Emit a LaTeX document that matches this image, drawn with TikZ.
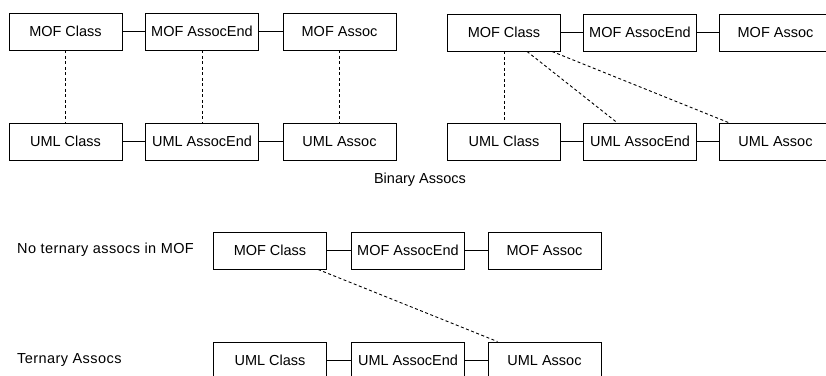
\documentclass[tikz,border=0pt]{standalone}
\usepackage{fontspec}
\setmainfont{Liberation Sans}
\usetikzlibrary{calc}
\begin{document}
\begin{tikzpicture}[x=1pt,y=-1pt,
  every node/.style={font=\fontsize{14.5}{17}\selectfont},
  elem/.style={draw, line width=0.9pt, minimum width=113pt, minimum height=37pt, inner sep=0pt},
  link/.style={line width=0.9pt},
  trace/.style={line width=0.9pt, dash pattern=on 3pt off 2.5pt},
  caption/.style={anchor=west, inner sep=0pt, font=\fontsize{14.5}{17}\selectfont\addfontfeature{LetterSpace=3}}]
\useasboundingbox (0,0) rectangle (826,375);
\clip (0,0) rectangle (826,375);

% binary associations, one-to-one mapping
\node[elem] (mc1) at (65.5,31.5) {MOF Class};
\node[elem] (me1) at (202,31.5) {MOF AssocEnd};
\node[elem] (ma1) at (339.5,31.5) {MOF Assoc};
\node[elem] (uc1) at (65.5,141.5) {UML Class};
\node[elem] (ue1) at (202,141.5) {UML AssocEnd};
\node[elem] (ua1) at (339.5,141.5) {UML Assoc};
\draw[link] (mc1) -- (me1);
\draw[link] (me1) -- (ma1);
\draw[link] (uc1) -- (ue1);
\draw[link] (ue1) -- (ua1);
\draw[trace] (mc1) -- (uc1);
\draw[trace] (me1) -- (ue1);
\draw[trace] (ma1) -- (ua1);

% binary associations, all mapped from the class
\node[elem] (mc2) at (504,32.5) {MOF Class};
\node[elem] (me2) at (640,32.5) {MOF AssocEnd};
\node[elem] (ma2) at (775.5,32.5) {MOF Assoc};
\node[elem] (uc2) at (504,141.5) {UML Class};
\node[elem] (ue2) at (640,141.5) {UML AssocEnd};
\node[elem] (ua2) at (775.5,141.5) {UML Assoc};
\draw[link] (mc2) -- (me2);
\draw[link] (me2) -- (ma2);
\draw[link] (uc2) -- (ue2);
\draw[link] (ue2) -- (ua2);
\draw[trace] (mc2) -- (uc2);
\draw[trace] ([xshift=23pt]mc2.south) -- ([xshift=-23pt]ue2.north);
\draw[trace] ([xshift=48pt]mc2.south) -- ([xshift=-47pt]ua2.north);

\node (binary) at (420,180) {Binary Assocs};

% ternary associations
\node[elem] (mc3) at (270,250.5) {MOF Class};
\node[elem] (me3) at (408,250.5) {MOF AssocEnd};
\node[elem] (ma3) at (544.5,250.5) {MOF Assoc};
\node[elem] (uc3) at (270,360.5) {UML Class};
\node[elem] (ue3) at (408,360.5) {UML AssocEnd};
\node[elem] (ua3) at (544.5,360.5) {UML Assoc};
\draw[link] (mc3) -- (me3);
\draw[link] (me3) -- (ma3);
\draw[link] (uc3) -- (ue3);
\draw[link] (ue3) -- (ua3);
\draw[trace] ([xshift=48pt]mc3.south) -- ([xshift=-47pt]ua3.north);

\node[caption] (nomof) at (17,250) {No ternary assocs in MOF};
\node[caption] (ternary) at (17,360) {Ternary Assocs};
\end{tikzpicture}
\end{document}
